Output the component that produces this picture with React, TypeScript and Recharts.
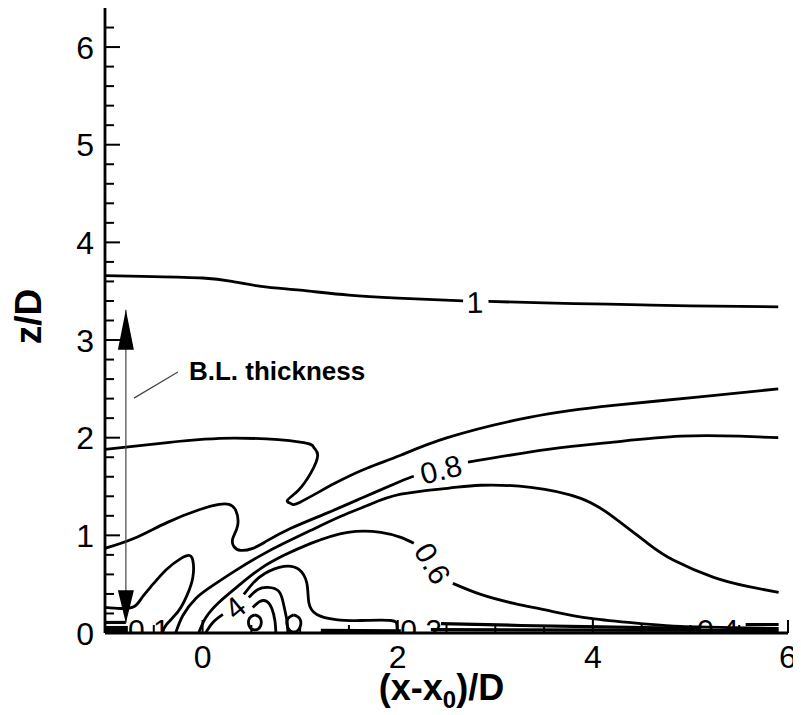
import React from 'react';
import { ComposedChart, Line, XAxis, YAxis, ReferenceLine, ReferenceDot, Label } from 'recharts';

type Pt = { x: number; y: number };
const pts = (a: number[][]): Pt[] => a.map(([x, y]) => ({ x, y }));

const FONT = '"Liberation Sans", Arial, Helvetica, sans-serif';

// axis ticks
const xTicks = [-0.5, 0, 0.5, 1, 1.5, 2, 2.5, 3, 3.5, 4, 4.5, 5, 5.5, 6];
const xTickLabels = [0, 2, 4, 6];
const yTicks = [0, 0.2, 0.4, 0.6, 0.8, 1, 1.2, 1.4, 1.6, 1.8, 2, 2.2, 2.4, 2.6, 2.8, 3, 3.2, 3.4, 3.6, 3.8, 4, 4.2, 4.4, 4.6, 4.8, 5, 5.2, 5.4, 5.6, 5.8, 6, 6.2];
const yTickLabels = [0, 1, 2, 3, 4, 5, 6];

// contour lines, (x-x0)/D vs z/D
const level1a = pts([[-1, 3.66], [-0.5, 3.65], [0, 3.635], [0.3, 3.6], [0.6, 3.55], [1, 3.51], [1.5, 3.46], [2, 3.43], [2.67, 3.4]]);
const level1b = pts([[2.93, 3.395], [3.5, 3.38], [4, 3.37], [4.5, 3.36], [5, 3.35], [5.9, 3.34]]);

const level09 = pts([[-1, 1.88], [-0.36, 1.95], [0.32, 1.995], [1, 1.955], [1.14, 1.9], [1.18, 1.82], [1.11, 1.64], [0.98, 1.46], [0.87, 1.36], [0.905, 1.325], [1, 1.34], [1.35, 1.53], [1.69, 1.69], [2.03, 1.82], [2.51, 2.0], [3.36, 2.21], [4.21, 2.33], [5.07, 2.415], [5.9, 2.5]]);

const level08a = pts([[-1, 0.867], [-0.7, 0.97], [-0.36, 1.133], [-0.02, 1.267], [0.17, 1.318], [0.27, 1.318], [0.34, 1.256], [0.36, 1.103], [0.31, 0.969], [0.32, 0.887], [0.39, 0.846], [0.515, 0.867], [0.65, 0.938], [0.905, 1.072], [1.28, 1.23], [1.65, 1.39], [2.03, 1.554], [2.165, 1.605]]);
const level08b = pts([[2.72, 1.75], [3.54, 1.88], [4.21, 1.955], [4.9, 2.015], [5.5, 2.015], [5.9, 2.0]]);

const level07 = pts([[-0.274, 0.005], [-0.202, 0.179], [-0.069, 0.354], [0.106, 0.487], [0.341, 0.641], [0.598, 0.795], [0.834, 0.918], [1.11, 1.051], [1.418, 1.195], [1.694, 1.308], [2.032, 1.421], [2.513, 1.482], [2.851, 1.513], [3.364, 1.492], [3.876, 1.379], [4.214, 1.185], [4.562, 0.918], [4.829, 0.744], [5.238, 0.569], [5.587, 0.477], [5.904, 0.415]]);

const lobe07 = pts([[-1, 0.262], [-0.84, 0.251], [-0.7, 0.272], [-0.62, 0.364], [-0.51, 0.497], [-0.37, 0.651], [-0.22, 0.764], [-0.14, 0.795], [-0.1, 0.744], [-0.1, 0.569], [-0.16, 0.385], [-0.25, 0.221], [-0.37, 0.087], [-0.41, 0.005]]);

const level06a = pts([[-0.038, 0.005], [0.034, 0.159], [0.167, 0.313], [0.372, 0.487], [0.598, 0.662], [0.834, 0.795], [1.11, 0.918], [1.489, 1.031], [1.827, 1.031], [2.032, 0.979], [2.165, 0.918]]);
const level06b = pts([[2.565, 0.508], [2.851, 0.395], [3.19, 0.303], [3.538, 0.231], [3.978, 0.149], [4.491, 0.097], [4.901, 0.067], [5.413, 0.056], [5.904, 0.046]]);

const level04a = pts([[0.034, 0.005], [0.106, 0.108], [0.208, 0.19]]);
const level04b = pts([[0.423, 0.395], [0.515, 0.508], [0.638, 0.61], [0.834, 0.682], [0.987, 0.651], [1.069, 0.508], [1.089, 0.313], [1.171, 0.19], [1.366, 0.138], [1.622, 0.128], [1.929, 0.128], [1.991, 0.077], [2.001, 0.005]]);

const innerArc1 = pts([[0.474, 0.364], [0.567, 0.446], [0.669, 0.467], [0.782, 0.426], [0.833, 0.282], [0.864, 0.128], [0.874, 0.005]]);
const innerArc2 = pts([[0.515, 0.262], [0.587, 0.323], [0.659, 0.323], [0.71, 0.251], [0.741, 0.128], [0.751, 0.005]]);
const innerLoop1 = pts([[0.536, 0.185], [0.592, 0.149], [0.592, 0.067], [0.536, 0.031], [0.48, 0.067], [0.48, 0.149], [0.536, 0.185]]);
const innerLoop2 = pts([[0.935, 0.185], [0.997, 0.144], [0.997, 0.056], [0.935, 0.01], [0.874, 0.056], [0.874, 0.144], [0.935, 0.185]]);

const wallA = pts([[2.444, 0.097], [3.262, 0.077], [4.081, 0.062], [5.105, 0.046]]);
const wallB = pts([[5.566, 0.087], [5.904, 0.087]]);
const wallC = pts([[2.34, 0.035], [4.08, 0.03], [5.904, 0.025]]);
const wallD = pts([[1.212, 0.026], [2.032, 0.021]]);
const wallE = pts([[-1, 0.108], [-0.786, 0.108]]);
const wallF = pts([[-1, 0.056], [-0.766, 0.056]]);
const wallG = pts([[-1, 0.026], [-0.766, 0.026]]);

const contours: [string, Pt[]][] = [
  ['l1a', level1a], ['l1b', level1b], ['l09', level09], ['l08a', level08a], ['l08b', level08b],
  ['l07', level07], ['lobe', lobe07], ['l06a', level06a], ['l06b', level06b],
  ['l04a', level04a], ['l04b', level04b], ['arc1', innerArc1], ['arc2', innerArc2],
  ['loop1', innerLoop1], ['loop2', innerLoop2],
];
const wallLines: [string, Pt[]][] = [
  ['wA', wallA], ['wB', wallB], ['wC', wallC], ['wD', wallD], ['wE', wallE], ['wF', wallF], ['wG', wallG],
];

// contour labels: text, x, y, angle
const contourLabels: [string, number, number, number][] = [
  ['1', 2.79, 3.39, -1],
  ['0.8', 2.442, 1.677, -14],
  ['0.6', 2.36, 0.713, 60],
  ['4', 0.331, 0.262, -40],
];
// labels sitting on the wall, cut by the axis
const wallLabels: [string, number][] = [
  ['0.1', -0.55],
  ['0.2', 2.24],
  ['0.4', 5.28],
];

// boundary layer thickness marker
const blX = -0.786;
const blBottom = 0.1;
const blTop = 3.31;

const YTick = (props: any) => {
  const { x, y, payload } = props;
  const major = yTickLabels.includes(payload.value);
  return (
    <g>
      <line x1={x} x2={x + (major ? 15 : 9)} y1={y} y2={y} stroke="#000" strokeWidth={2} />
      {major && (
        <text x={x - 11} y={y} dy="0.36em" textAnchor="end" fontSize={32} fontFamily={FONT} fill="#000">
          {payload.value}
        </text>
      )}
    </g>
  );
};

const XTick = (props: any) => {
  const { x, y, payload } = props;
  const major = xTickLabels.includes(payload.value);
  return (
    <g>
      <line x1={x} x2={x} y1={y} y2={y - (major ? 13 : 8)} stroke="#000" strokeWidth={2} />
      {major && (
        <text x={x} y={y + 35} textAnchor="middle" fontSize={32} fontFamily={FONT} fill="#000">
          {payload.value}
        </text>
      )}
    </g>
  );
};

const ContourText = ({ cx, cy, text, angle }: any) => (
  <text
    x={cx}
    y={cy}
    dy="0.36em"
    transform={`rotate(${angle} ${cx} ${cy})`}
    textAnchor="middle"
    fontSize={30}
    fontFamily={FONT}
    fill="#000"
  >
    {text}
  </text>
);

const WallText = ({ cx, cy, text, idx }: any) => (
  <g>
    <defs>
      <clipPath id={`wallclip-${idx}`}>
        <rect x={cx - 40} y={cy - 40} width={80} height={40} />
      </clipPath>
    </defs>
    <text x={cx} y={cy + 7} textAnchor="middle" fontSize={30} fontFamily={FONT} fill="#000" clipPath={`url(#wallclip-${idx})`}>
      {text}
    </text>
  </g>
);

const ArrowHead = ({ cx, cy, up }: any) => {
  const h = up ? 40 : 33;
  const b = up ? cy + h : cy - h;
  return <polygon points={`${cx},${cy} ${cx - 8},${b} ${cx + 8},${b}`} fill="#000" />;
};

const XTitle = ({ viewBox }: any) => {
  const cx = viewBox.x + viewBox.width / 2 - 5;
  const by = viewBox.y + 67;
  return (
    <text x={cx} y={by} textAnchor="middle" fontSize={36} fontWeight="bold" fontFamily={FONT} fill="#000">
      (x-x<tspan fontSize={24} dy={8}>0</tspan>
      <tspan dy={-8}>)/D</tspan>
    </text>
  );
};

const YTitle = ({ viewBox }: any) => {
  const cx = viewBox.x - 17;
  const cy = viewBox.y + viewBox.height / 2 - 4;
  return (
    <text
      x={cx}
      y={cy}
      dy="0.36em"
      transform={`rotate(-90 ${cx} ${cy})`}
      textAnchor="middle"
      fontSize={37}
      fontWeight="bold"
      fontFamily={FONT}
      fill="#000"
    >
      z/D
    </text>
  );
};

export default function App() {
  return (
    <div style={{ width: 793, height: 707, background: '#fff' }}>
      <ComposedChart width={793} height={707} margin={{ top: 0, right: 13, bottom: 32, left: 37 }} style={{ fontFamily: FONT }}>
        <XAxis
          type="number"
          dataKey="x"
          domain={[-1, 6]}
          allowDataOverflow
          ticks={xTicks}
          interval={0}
          tick={<XTick />}
          tickLine={false}
          tickSize={0}
          tickMargin={0}
          height={50}
          axisLine={{ stroke: '#000', strokeWidth: 2.8 }}
        >
          <Label content={<XTitle />} />
        </XAxis>
        <YAxis
          type="number"
          dataKey="y"
          domain={[0, 6.4]}
          allowDataOverflow
          ticks={yTicks}
          interval={0}
          tick={<YTick />}
          tickLine={false}
          tickSize={0}
          tickMargin={0}
          width={60}
          axisLine={{ stroke: '#000', strokeWidth: 2.8 }}
        >
          <Label content={<YTitle />} />
        </YAxis>

        {contours.map(([key, data]) => (
          <Line
            key={key}
            data={data}
            dataKey="y"
            type="natural"
            stroke="#000"
            strokeWidth={2.8}
            dot={false}
            activeDot={false}
            isAnimationActive={false}
            legendType="none"
          />
        ))}
        {wallLines.map(([key, data]) => (
          <Line
            key={key}
            data={data}
            dataKey="y"
            type="linear"
            stroke="#000"
            strokeWidth={3.2}
            dot={false}
            activeDot={false}
            isAnimationActive={false}
            legendType="none"
          />
        ))}

        {contourLabels.map(([text, x, y, angle]) => (
          <ReferenceDot key={text} x={x} y={y} r={0} shape={(p: any) => <ContourText {...p} text={text} angle={angle} />} />
        ))}
        {wallLabels.map(([text, x], i) => (
          <ReferenceDot key={`w${text}`} x={x} y={0} r={0} shape={(p: any) => <WallText {...p} text={text} idx={i} />} />
        ))}

        <ReferenceLine segment={[{ x: blX, y: blBottom }, { x: blX, y: blTop }]} stroke="#444" strokeWidth={1.2} />
        <ReferenceDot x={blX} y={blTop} r={0} shape={(p: any) => <ArrowHead {...p} up />} />
        <ReferenceDot x={blX} y={blBottom} r={0} shape={(p: any) => <ArrowHead {...p} up={false} />} />
        <ReferenceLine segment={[{ x: -0.703, y: 2.405 }, { x: -0.253, y: 2.672 }]} stroke="#444" strokeWidth={1.2} />
        <ReferenceDot
          x={-0.14}
          y={2.59}
          r={0}
          shape={(p: any) => (
            <text x={p.cx} y={p.cy} fontSize={26} fontWeight="bold" fontFamily={FONT} fill="#000">
              B.L. thickness
            </text>
          )}
        />
      </ComposedChart>
    </div>
  );
}
